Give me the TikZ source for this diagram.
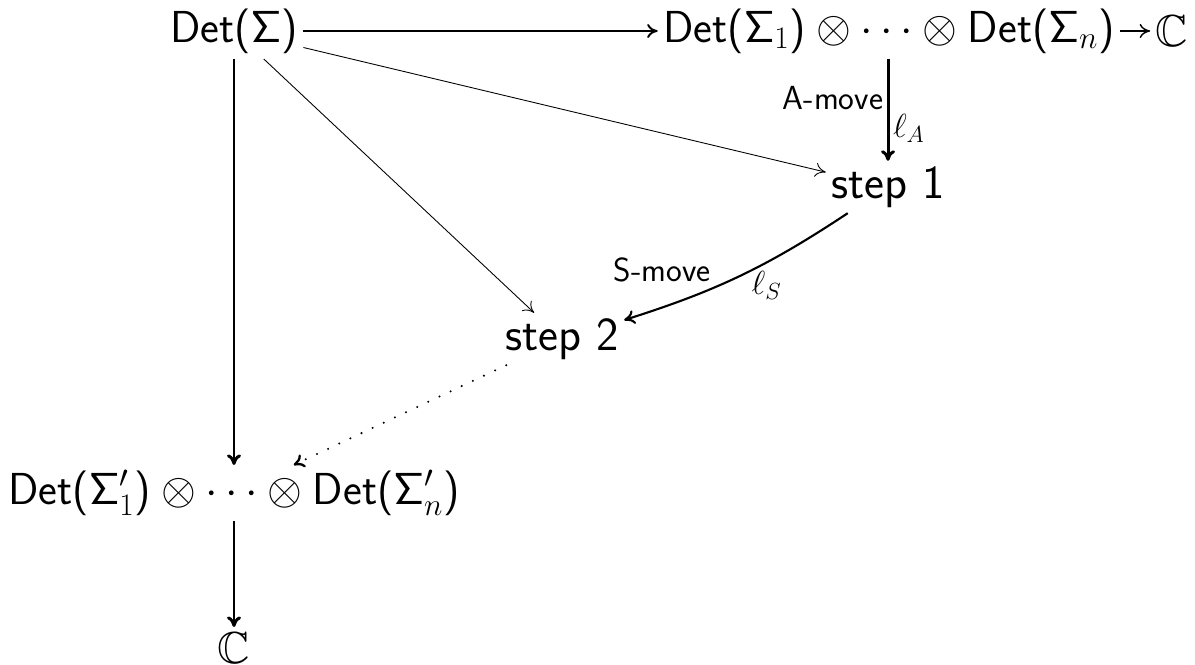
\RequirePackage{fix-cm}
\documentclass[tikz,border=0pt]{standalone}
\usepackage{amssymb}
\usetikzlibrary{arrows.meta}
\newcommand{\Sg}{\mathsf{\Sigma}}
\newcommand{\Dt}[1]{\textsf{Det(}#1\textsf{)}}
\tikzset{
  obj/.style={font=\sffamily\fontsize{25.5}{29}\selectfont, inner sep=3pt},
  stepbox/.style={font=\sffamily\fontsize{27}{31}\selectfont, inner sep=3pt},
  lbl/.style={font=\sffamily\fontsize{19}{22}\selectfont, inner sep=2pt},
  arr/.style={-{To[length=6pt,width=8pt]}},
  heavy/.style={arr, line width=1.7pt},
  medium/.style={arr, line width=1.1pt},
  light/.style={arr, line width=0.5pt},
}
\begin{document}
\begin{tikzpicture}[x=0.02cm, y=-0.02cm]
\useasboundingbox (0,0) rectangle (1195,665);
\node[obj] (S)  at (234,31)  {$\Dt{\Sg}$};
\node[obj] (T)  at (889,31)  {$\Dt{\Sg_1}\otimes\cdots\otimes\Dt{\Sg_n}$};
\node[obj] (C1) at (1172,31) {$\mathbb{C}$};
\node[stepbox] (s1) at (888,187) {step 1};
\node[stepbox] (s2) at (562,339) {step 2};
\node[obj] (B)  at (234,493) {$\Dt{\Sg'_1}\otimes\cdots\otimes\Dt{\Sg'_n}$};
\node[obj] (C2) at (234,648) {$\mathbb{C}$};

\draw[medium] (S) -- (T);
\draw[light, line width=0.8pt] (T) -- (C1);
\draw[heavy] (s1.north |- T.south) -- (s1.north)
  node[lbl, pos=0.38, left] {A-move}
  node[lbl, pos=0.68, right] {$\ell_A$};
\draw[light] (S) -- (s1);
\draw[light] (S) -- (s2);
\draw[heavy, line width=1.2pt] (s1) to[bend left=8]
  node[lbl, pos=0.62, above left] {S-move}
  node[lbl, pos=0.45, below right, inner sep=0pt] {$\ell_S$} (s2);
\draw[light, line width=1.3pt, line cap=round, dash pattern=on 0pt off 7pt] (s2) -- (B);
\draw[heavy] (S) -- (B);
\draw[heavy] (B) -- (C2);
\end{tikzpicture}
\end{document}
